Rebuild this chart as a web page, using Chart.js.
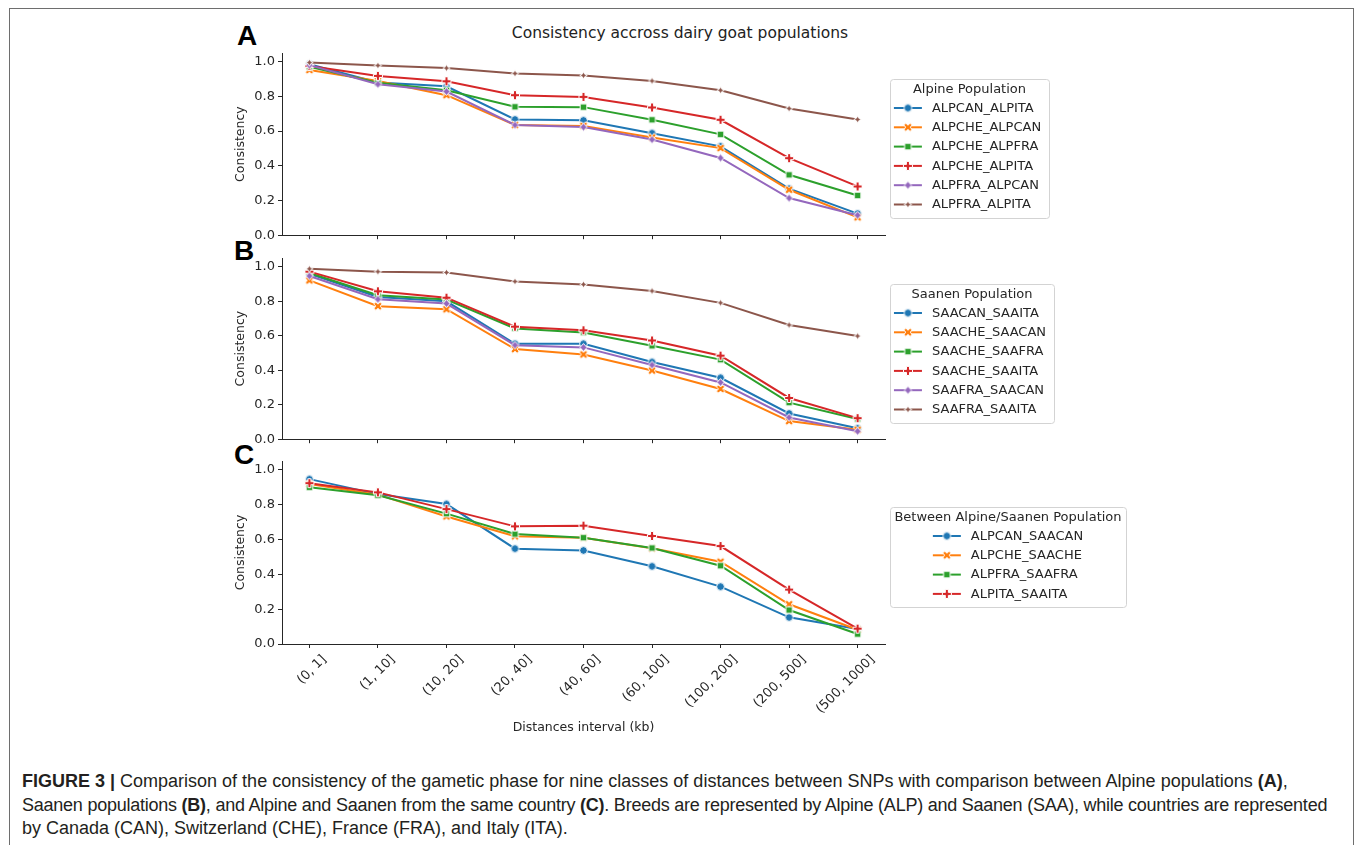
<!DOCTYPE html>
<html>
<head>
<meta charset="utf-8">
<script src="https://cdn.jsdelivr.net/npm/chart.js@4.4.1/dist/chart.umd.min.js"></script>
<style>
  body { margin: 0; background: #fff; }
  #page { position: relative; width: 1355px; height: 845px; overflow: hidden; font-family: "DejaVu Sans", sans-serif; }
  #frame { position: absolute; left: 9px; top: 8px; width: 1345px; height: 900px; border: 1.5px solid #6e6e6e; box-sizing: border-box; }
  .panel { position: absolute; left: 220px; }
  .letter { position: absolute; font: bold 28px/28px "Liberation Sans", Arial, sans-serif; color: #000; }
  #title { position: absolute; left: 430px; width: 500px; top: 24px; text-align: center; font-size: 15.5px; line-height: 19px; color: #222; }
  #caption { position: absolute; left: 22px; top: 770px; font: 18px/23.5px "Liberation Sans", Arial, sans-serif; color: #231f20; white-space: nowrap; }
  #caption .l2 { letter-spacing: -0.24px; }
</style>
</head>
<body>
<div id="page">
  <div id="frame"></div>
  <div id="title">Consistency accross dairy goat populations</div>
  <div class="letter" style="left:237px;top:22px">A</div>
  <div class="letter" style="left:234px;top:237px">B</div>
  <div class="letter" style="left:234px;top:441px">C</div>
  <canvas id="chartA" class="panel" style="top:40px" width="920" height="206"></canvas>
  <canvas id="chartB" class="panel" style="top:245px" width="920" height="205"></canvas>
  <canvas id="chartC" class="panel" style="top:448px" width="920" height="287"></canvas>
  <div id="caption"><b>FIGURE 3 |</b> Comparison of the consistency of the gametic phase for nine classes of distances between SNPs with comparison between Alpine populations <b>(A)</b>,<br><span class="l2">Saanen populations <b>(B)</b>, and Alpine and Saanen from the same country <b>(C)</b>. Breeds are represented by Alpine (ALP) and Saanen (SAA), while countries are represented</span><br>by Canada (CAN), Switzerland (CHE), France (FRA), and Italy (ITA).</div>
</div>
<script>
// distance classes (kb)
const categories = ['(0, 1]', '(1, 10]', '(10, 20]', '(20, 40]', '(40, 60]', '(60, 100]', '(100, 200]', '(200, 500]', '(500, 1000]'];
const yTickValues = [0, 0.2, 0.4, 0.6, 0.8, 1.0];

// panel A - Alpine
const alpineNames = ['ALPCAN_ALPITA', 'ALPCHE_ALPCAN', 'ALPCHE_ALPFRA', 'ALPCHE_ALPITA', 'ALPFRA_ALPCAN', 'ALPFRA_ALPITA'];
const alpcanAlpita = [0.985, 0.880, 0.858, 0.667, 0.662, 0.588, 0.512, 0.268, 0.124];
const alpcheAlpcan = [0.952, 0.889, 0.807, 0.635, 0.630, 0.563, 0.502, 0.262, 0.103];
const alpcheAlpfra = [0.970, 0.878, 0.835, 0.740, 0.738, 0.665, 0.581, 0.348, 0.229];
const alpcheAlpita = [0.975, 0.918, 0.887, 0.807, 0.797, 0.736, 0.665, 0.444, 0.281];
const alpfraAlpcan = [0.980, 0.870, 0.828, 0.635, 0.623, 0.551, 0.445, 0.214, 0.115];
const alpfraAlpita = [0.995, 0.978, 0.963, 0.932, 0.921, 0.889, 0.835, 0.730, 0.667];

// panel B - Saanen
const saanenNames = ['SAACAN_SAAITA', 'SAACHE_SAACAN', 'SAACHE_SAAFRA', 'SAACHE_SAAITA', 'SAAFRA_SAACAN', 'SAAFRA_SAAITA'];
const saacanSaaita = [0.958, 0.824, 0.799, 0.553, 0.553, 0.447, 0.356, 0.149, 0.063];
const saacheSaacan = [0.920, 0.771, 0.753, 0.522, 0.491, 0.398, 0.291, 0.105, 0.055];
const saacheSaafra = [0.963, 0.834, 0.809, 0.642, 0.618, 0.541, 0.461, 0.212, 0.117];
const saacheSaaita = [0.971, 0.857, 0.820, 0.652, 0.631, 0.572, 0.484, 0.239, 0.122];
const saafraSaacan = [0.946, 0.811, 0.786, 0.545, 0.532, 0.430, 0.329, 0.126, 0.046];
const saafraSaaita = [0.987, 0.971, 0.966, 0.914, 0.897, 0.859, 0.790, 0.662, 0.598];

// panel C - between breeds, same country
const betweenNames = ['ALPCAN_SAACAN', 'ALPCHE_SAACHE', 'ALPFRA_SAAFRA', 'ALPITA_SAAITA'];
const alpcanSaacan = [0.946, 0.860, 0.803, 0.547, 0.537, 0.446, 0.329, 0.153, 0.086];
const alpcheSaache = [0.918, 0.857, 0.732, 0.618, 0.610, 0.549, 0.472, 0.228, 0.082];
const alpfraSaafra = [0.899, 0.853, 0.748, 0.631, 0.610, 0.551, 0.449, 0.195, 0.057];
const alpitaSaaita = [0.923, 0.870, 0.774, 0.675, 0.679, 0.620, 0.562, 0.312, 0.088];

const colors = ['#1f77b4', '#ff7f0e', '#2ca02c', '#d62728', '#9467bd', '#8c564b'];
const markerKinds = ['circle', 'X', 'square', 'plus', 'diamond', 'star'];

// seaborn-like filled markers with white edge
function makeMarker(kind, color, r) {
  const size = Math.ceil(r * 2 + 3);
  const c = document.createElement('canvas');
  c.width = c.height = size;
  const g = c.getContext('2d');
  g.translate(size / 2, size / 2);
  g.beginPath();
  if (kind === 'circle') {
    g.arc(0, 0, r, 0, Math.PI * 2);
  } else if (kind === 'square') {
    g.rect(-r * 0.85, -r * 0.85, r * 1.7, r * 1.7);
  } else if (kind === 'diamond') {
    g.moveTo(0, -r); g.lineTo(r * 0.9, 0); g.lineTo(0, r); g.lineTo(-r * 0.9, 0); g.closePath();
  } else if (kind === 'star') {
    for (let k = 0; k < 8; k++) {
      const ang = k * Math.PI / 4 - Math.PI / 2;
      const rad = k % 2 ? r * 0.45 : r * 0.95;
      const px = Math.cos(ang) * rad, py = Math.sin(ang) * rad;
      if (k === 0) g.moveTo(px, py); else g.lineTo(px, py);
    }
    g.closePath();
  } else {
    const a = r / 3;
    const pts = [[-a, -r], [a, -r], [a, -a], [r, -a], [r, a], [a, a], [a, r], [-a, r], [-a, a], [-r, a], [-r, -a], [-a, -a]];
    const rot = kind === 'X' ? Math.PI / 4 : 0;
    pts.forEach(([px, py], k) => {
      const qx = px * Math.cos(rot) - py * Math.sin(rot);
      const qy = px * Math.sin(rot) + py * Math.cos(rot);
      if (k === 0) g.moveTo(qx, qy); else g.lineTo(qx, qy);
    });
    g.closePath();
  }
  g.fillStyle = color;
  g.fill();
  g.lineWidth = 1;
  g.strokeStyle = '#fff';
  g.stroke();
  return c;
}
const markerImgs = markerKinds.map((k, i) => makeMarker(k, colors[i], k === 'X' || k === 'plus' ? 4.5 : 3.9));

function buildSets(names, series) {
  return series.map((vals, i) => ({
    label: names[i],
    data: vals.map((v, k) => ({ x: k, y: v })),
    borderColor: colors[i],
    backgroundColor: colors[i],
    borderWidth: 2,
    pointStyle: markerImgs[i],
    pointRadius: 4,
    pointHoverRadius: 4,
    order: series.length - i,
    clip: false
  }));
}

// matplotlib-style boxed legend to the right of the plot area
const boxLegend = {
  id: 'boxLegend',
  afterDraw(chart, args, opts) {
    const g = chart.ctx, ca = chart.chartArea;
    const items = chart.data.datasets;
    g.save();
    g.font = '13px "DejaVu Sans"';
    const textW = Math.max(...items.map(d => g.measureText(d.label).width));
    const titleW = g.measureText(opts.title).width;
    const rowW = 38 + textW;
    const w = Math.round(Math.max(titleW + 9, rowW + 12));
    const h = Math.round(29 + (items.length - 1) * 19.3 + 13);
    const left = Math.round(ca.right + 5);
    const top = Math.round((ca.top + ca.bottom) / 2 + 4.5 - h / 2);
    g.beginPath();
    g.roundRect(left + 0.5, top + 0.5, w, h, 3);
    g.fillStyle = 'rgba(255,255,255,0.8)';
    g.fill();
    g.strokeStyle = '#d3d3d3';
    g.lineWidth = 1;
    g.stroke();
    g.fillStyle = '#262626';
    g.textBaseline = 'middle';
    g.textAlign = 'center';
    g.fillText(opts.title, left + w / 2, top + 11);
    const x0 = left + (w - rowW) / 2 + (rowW + 12 >= titleW + 9 ? -2 : 0);
    items.forEach((d, i) => {
      const y = top + 29 + i * 19.3;
      g.strokeStyle = d.borderColor;
      g.lineWidth = 2;
      g.beginPath();
      g.moveTo(x0, y);
      g.lineTo(x0 + 28, y);
      g.stroke();
      const img = d.pointStyle;
      g.drawImage(img, x0 + 14 - img.width / 2, y - img.height / 2);
      g.fillStyle = '#262626';
      g.textAlign = 'left';
      g.fillText(d.label, x0 + 38, y + 0.5);
    });
    g.restore();
  }
};

const axisColor = '#262626';
const tickFont = { family: 'DejaVu Sans', size: 13 };

function makeChart(id, names, series, legendTitle, showX) {
  new Chart(document.getElementById(id), {
    type: 'line',
    data: { datasets: buildSets(names, series) },
    plugins: [boxLegend],
    options: {
      responsive: false,
      animation: false,
      layout: { padding: { top: 13, right: 255, bottom: 0, left: 0 } },
      plugins: {
        legend: { display: false },
        tooltip: { enabled: false },
        boxLegend: { title: legendTitle }
      },
      scales: {
        x: {
          type: 'linear',
          min: -0.4,
          max: 8.4,
          afterBuildTicks: s => { s.ticks = categories.map((c, i) => ({ value: i })); },
          afterFit: s => { s.height = showX ? 91 : 10; },
          ticks: {
            display: showX,
            autoSkip: false,
            minRotation: 45,
            maxRotation: 45,
            labelOffset: 15,
            padding: 4,
            color: axisColor,
            font: tickFont,
            callback: v => categories[v]
          },
          grid: { display: true, drawOnChartArea: false, drawTicks: true, tickLength: 4, color: axisColor },
          border: { display: true, color: axisColor, width: 1 },
          title: {
            display: showX,
            text: 'Distances interval (kb)',
            color: axisColor,
            font: { family: 'DejaVu Sans', size: 12.5 },
            padding: { top: 0, bottom: 0 }
          }
        },
        y: {
          min: 0,
          max: 1.05,
          afterBuildTicks: s => { s.ticks = yTickValues.map(v => ({ value: v })); },
          afterFit: s => { s.width = 62; },
          ticks: { padding: 3, color: axisColor, font: tickFont, callback: v => v.toFixed(1) },
          grid: { display: true, drawOnChartArea: false, drawTicks: true, tickLength: 4, color: axisColor },
          border: { display: true, color: axisColor, width: 1 },
          title: {
            display: true,
            text: 'Consistency',
            color: axisColor,
            font: { family: 'DejaVu Sans', size: 12.5 },
            padding: { top: 13, bottom: 0 }
          }
        }
      }
    }
  });
}

makeChart('chartA', alpineNames, [alpcanAlpita, alpcheAlpcan, alpcheAlpfra, alpcheAlpita, alpfraAlpcan, alpfraAlpita], 'Alpine Population', false);
makeChart('chartB', saanenNames, [saacanSaaita, saacheSaacan, saacheSaafra, saacheSaaita, saafraSaacan, saafraSaaita], 'Saanen Population', false);
makeChart('chartC', betweenNames, [alpcanSaacan, alpcheSaache, alpfraSaafra, alpitaSaaita], 'Between Alpine/Saanen Population', true);
</script>
</body>
</html>
